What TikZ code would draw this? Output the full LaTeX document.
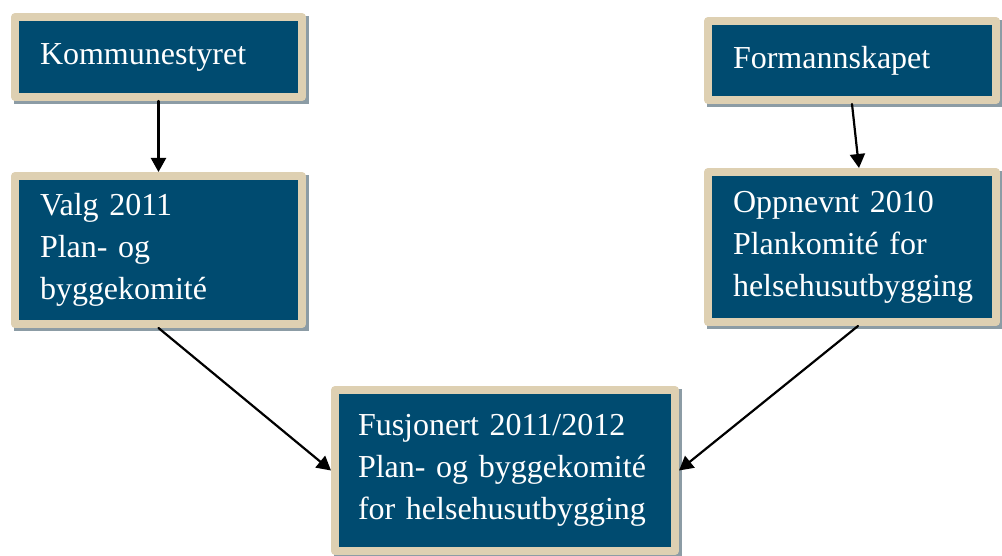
\documentclass[tikz,border=0pt]{standalone}
\usepackage{fontspec}
\setmainfont{Liberation Serif}
\usepackage{tikz}
\usetikzlibrary{arrows.meta,backgrounds}

\definecolor{boxblue}{RGB}{0,75,112}
\definecolor{boxbeige}{RGB}{222,208,178}
\definecolor{shadowgrey}{RGB}{140,156,165}

\tikzset{
  orgbox/.style={draw=boxbeige,line width=8pt,fill=boxblue,text=white,
    align=left,inner xsep=0pt,inner ysep=0pt,
    font=\fontsize{32}{42}\selectfont},
  link/.style={line width=2.2pt,-{Triangle[length=14pt,width=15pt]}}
}

\begin{document}
\begin{tikzpicture}[x=1pt,y=-1pt,line cap=round,line join=round]
            \useasboundingbox (0,0) rectangle (1002,556);

            \node[orgbox,minimum width=287pt,minimum height=80pt,text width=237pt] (kst) at (158.5,57) {Kommunestyret};
            \node[orgbox,minimum width=287pt,minimum height=148pt,text width=237pt] (valg) at (158.5,250)
                {Valg 2011\\Plan- og\\byggekomité};
            \node[orgbox,minimum width=288pt,minimum height=79pt,text width=238pt] (fsk) at (852,60.5) {Formannskapet};
            \node[orgbox,minimum width=288pt,minimum height=150pt,text width=238pt] (opp) at (852,247)
                {Oppnevnt 2010\\Plankomité for\\helsehusutbygging};
            \node[orgbox,minimum width=340pt,minimum height=161pt,text width=294pt] (fus) at (505,470.5)
                {Fusjonert 2011/2012\\Plan- og byggekomité\\for helsehusutbygging};

            % shadows
            \begin{scope}[on background layer]
            \foreach \n in {kst,valg,fsk,opp,fus}
                \fill[shadowgrey] ([shift={(3,3)}]\n.south west) rectangle ([shift={(3,3)}]\n.north east);
            \end{scope}

            \draw[link] (kst.south) -- (valg.north);
            \draw[link] (fsk.south) -- ([xshift=7pt]opp.north);
            \draw[link] (valg.south) -- (fus.west);
            \draw[link] ([xshift=6pt]opp.south) -- (fus.east);
        \end{tikzpicture}
\end{document}
